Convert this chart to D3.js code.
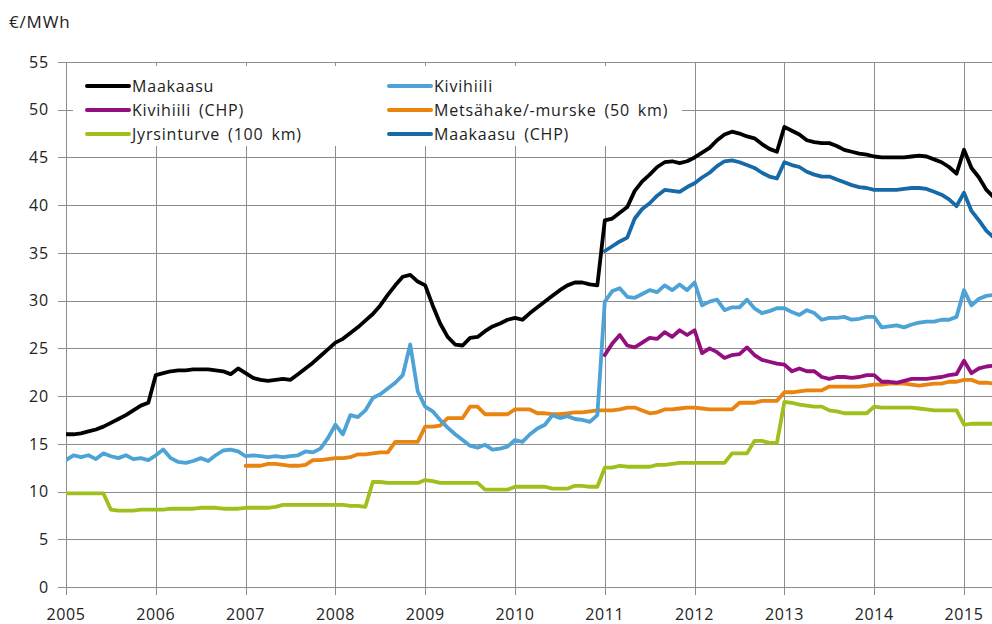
<!DOCTYPE html>
<html><head><meta charset="utf-8">
<script src="https://cdn.jsdelivr.net/npm/d3@7"></script>
<style>
html,body{margin:0;padding:0;background:#fff;}
svg text{font-family:"Open Sans","Noto Sans",sans-serif;fill:#222;}
</style></head>
<body><svg id="c" width="992" height="624"></svg>
<script>
const unitLabel = "€/MWh";
const yTicks = [0,5,10,15,20,25,30,35,40,45,50,55];
const xTicks = [2005,2006,2007,2008,2009,2010,2011,2012,2013,2014,2015];

// Monthly values
const maakaasuStart = [2005,1];
const maakaasu = [
 16.0,16.0,16.1,16.3,16.5,16.8,17.2,17.6,18.0,18.5,19.0,19.3,
 22.2,22.4,22.6,22.7,22.7,22.8,22.8,22.8,22.7,22.6,22.3,22.9,
 22.4,21.9,21.7,21.6,21.7,21.8,21.7,22.3,22.9,23.5,24.2,24.9,
 25.6,26.0,26.6,27.2,27.9,28.6,29.5,30.6,31.6,32.5,32.7,32.0,
 31.6,29.5,27.6,26.2,25.4,25.3,26.1,26.2,26.8,27.3,27.6,28.0,
 28.2,28.0,28.7,29.3,29.9,30.5,31.1,31.6,31.9,31.9,31.7,31.6,
 38.4,38.6,39.2,39.8,41.5,42.5,43.2,44.0,44.5,44.6,44.4,44.6,
 45.0,45.5,46.0,46.8,47.4,47.7,47.5,47.2,47.0,46.4,45.9,45.6,
 48.2,47.8,47.4,46.8,46.6,46.5,46.5,46.2,45.8,45.6,45.4,45.3,
 45.1,45.0,45.0,45.0,45.0,45.1,45.2,45.1,44.8,44.5,44.0,43.3,
 45.8,43.9,42.9,41.6,40.8];
const kivihiiliStart = [2005,1];
const kivihiili = [
 13.3,13.8,13.6,13.8,13.4,14.0,13.7,13.5,13.8,13.4,13.5,13.3,
 13.8,14.4,13.5,13.1,13.0,13.2,13.5,13.2,13.8,14.3,14.4,14.2,
 13.7,13.8,13.7,13.6,13.7,13.6,13.7,13.8,14.2,14.1,14.5,15.6,
 17.0,16.0,18.0,17.8,18.5,19.8,20.2,20.8,21.4,22.2,25.4,20.5,
 18.9,18.4,17.5,16.7,16.0,15.4,14.8,14.6,14.9,14.4,14.5,14.7,
 15.4,15.2,16.0,16.6,17.0,18.0,17.7,17.9,17.6,17.5,17.3,18.0,
 29.9,31.0,31.3,30.4,30.3,30.7,31.1,30.9,31.6,31.1,31.7,31.1,
 31.9,29.5,29.9,30.1,29.0,29.3,29.3,30.1,29.2,28.7,28.9,29.2,
 29.2,28.8,28.5,29.0,28.7,28.0,28.2,28.2,28.3,28.0,28.1,28.3,
 28.3,27.2,27.3,27.4,27.2,27.5,27.7,27.8,27.8,28.0,28.0,28.3,
 31.1,29.5,30.2,30.5,30.6];
const kivihiiliChpStart = [2011,1];
const kivihiiliChp = [
 24.3,25.5,26.4,25.3,25.1,25.6,26.1,26.0,26.7,26.2,26.9,26.4,
 26.9,24.5,25.0,24.6,24.0,24.3,24.4,25.1,24.3,23.8,23.6,23.4,
 23.3,22.6,22.9,22.6,22.6,22.0,21.8,22.0,22.0,21.9,22.0,22.2,
 22.2,21.5,21.5,21.4,21.6,21.8,21.8,21.8,21.9,22.0,22.2,22.3,
 23.7,22.4,22.9,23.1,23.2];
const metsahakeStart = [2007,1];
const metsahake = [
 12.7,12.7,12.7,12.9,12.9,12.8,12.7,12.7,12.8,13.3,13.3,13.4,
 13.5,13.5,13.6,13.9,13.9,14.0,14.1,14.1,15.2,15.2,15.2,15.2,
 16.8,16.8,16.9,17.7,17.7,17.7,18.9,18.9,18.1,18.1,18.1,18.1,
 18.6,18.6,18.6,18.2,18.2,18.1,18.1,18.2,18.3,18.3,18.4,18.5,
 18.5,18.5,18.6,18.8,18.8,18.5,18.2,18.3,18.6,18.6,18.7,18.8,
 18.8,18.7,18.6,18.6,18.6,18.6,19.3,19.3,19.3,19.5,19.5,19.5,
 20.4,20.4,20.5,20.6,20.6,20.6,21.0,21.0,21.0,21.0,21.0,21.1,
 21.2,21.2,21.3,21.3,21.3,21.2,21.1,21.2,21.3,21.3,21.5,21.5,
 21.7,21.7,21.4,21.4,21.3];
const jyrsinturveStart = [2005,1];
const jyrsinturve = [
 9.8,9.8,9.8,9.8,9.8,9.8,8.1,8.0,8.0,8.0,8.1,8.1,
 8.1,8.1,8.2,8.2,8.2,8.2,8.3,8.3,8.3,8.2,8.2,8.2,
 8.3,8.3,8.3,8.3,8.4,8.6,8.6,8.6,8.6,8.6,8.6,8.6,
 8.6,8.6,8.5,8.5,8.4,11.0,11.0,10.9,10.9,10.9,10.9,10.9,
 11.2,11.1,10.9,10.9,10.9,10.9,10.9,10.9,10.2,10.2,10.2,10.2,
 10.5,10.5,10.5,10.5,10.5,10.3,10.3,10.3,10.6,10.6,10.5,10.5,
 12.5,12.5,12.7,12.6,12.6,12.6,12.6,12.8,12.8,12.9,13.0,13.0,
 13.0,13.0,13.0,13.0,13.0,14.0,14.0,14.0,15.3,15.3,15.1,15.1,
 19.4,19.3,19.1,19.0,18.9,18.9,18.5,18.4,18.2,18.2,18.2,18.2,
 18.9,18.8,18.8,18.8,18.8,18.8,18.7,18.6,18.5,18.5,18.5,18.5,
 17.0,17.1,17.1,17.1,17.1];
const maakaasuChpStart = [2011,1];
const maakaasuChp = [
 35.2,35.7,36.2,36.6,38.6,39.6,40.2,41.0,41.6,41.5,41.4,41.9,
 42.3,42.9,43.4,44.1,44.6,44.7,44.5,44.2,43.9,43.4,43.0,42.8,
 44.5,44.2,44.0,43.5,43.2,43.0,43.0,42.7,42.4,42.1,41.9,41.8,
 41.6,41.6,41.6,41.6,41.7,41.8,41.8,41.7,41.4,41.1,40.6,39.9,
 41.3,39.4,38.4,37.3,36.6];

const seriesNames = ["Maakaasu","Kivihiili","Kivihiili (CHP)","Metsähake/-murske (50 km)","Jyrsinturve (100 km)","Maakaasu (CHP)"];
const seriesColors = ["#000000","#4da2d6","#930f80","#e8840f","#9fbf1c","#176aa8"];

const series = [
 {name:seriesNames[0], color:seriesColors[0], start:maakaasuStart, values:maakaasu},
 {name:seriesNames[1], color:seriesColors[1], start:kivihiiliStart, values:kivihiili},
 {name:seriesNames[2], color:seriesColors[2], start:kivihiiliChpStart, values:kivihiiliChp},
 {name:seriesNames[3], color:seriesColors[3], start:metsahakeStart, values:metsahake},
 {name:seriesNames[4], color:seriesColors[4], start:jyrsinturveStart, values:jyrsinturve},
 {name:seriesNames[5], color:seriesColors[5], start:maakaasuChpStart, values:maakaasuChp}
];
const drawOrder = [4,3,1,2,5,0];

(function(){
const svg = d3.select("#c");
const H = 624;
const pLeft = 66, pTop = 62, pBottom = 587, pRight = 992;
const x = d3.scaleLinear().domain([2005, 2015]).range([pLeft, 964]);
const y = d3.scaleLinear().domain([0, 55]).range([pBottom, pTop]);

const grid = svg.append("g");
const gridColor = "#8c8c8c";
grid.selectAll("line.h").data(yTicks).enter().append("line")
  .attr("x1", pLeft-8).attr("x2", pRight)
  .attr("y1", d=>Math.round(y(d))+0.5).attr("y2", d=>Math.round(y(d))+0.5)
  .attr("stroke", gridColor).attr("stroke-width",1);
grid.selectAll("line.v").data(xTicks).enter().append("line")
  .attr("x1", d=>Math.round(x(d))+0.5).attr("x2", d=>Math.round(x(d))+0.5)
  .attr("y1", pTop).attr("y2", pBottom+8)
  .attr("stroke", gridColor).attr("stroke-width",1);

svg.append("g").selectAll("text").data(yTicks).enter().append("text")
  .attr("x", 49).attr("y", d=>y(d)).attr("dy","0.36em")
  .attr("text-anchor","end").attr("font-size",16).attr("letter-spacing","0.8px").text(d=>d);
svg.append("g").selectAll("text").data(xTicks).enter().append("text")
  .attr("x", d=>x(d)).attr("y", 620)
  .attr("text-anchor","middle").attr("font-size",16).attr("letter-spacing","0.6px").text(d=>d);
svg.append("text").attr("x",9).attr("y",28).attr("font-size",17).attr("letter-spacing","0.8px").text(unitLabel);

const leg = svg.append("g");
leg.append("rect").attr("x",73).attr("y",66).attr("width",609).attr("height",80).attr("fill","#fff");

svg.append("clipPath").attr("id","clip").append("rect")
  .attr("x",pLeft).attr("y",0).attr("width",pRight-pLeft).attr("height",H);

const line = d3.line().x(d=>x(d.t)).y(d=>y(d.v)).curve(d3.curveLinear);
const plot = svg.append("g").attr("clip-path","url(#clip)");
drawOrder.forEach(i=>{
  const s = series[i];
  const pts = s.values.map((v,k)=>({t: s.start[0] + (s.start[1]-1+k)/12, v}));
  plot.append("path").datum(pts).attr("d", line)
    .attr("fill","none").attr("stroke", s.color).attr("stroke-width",3.8)
    .attr("stroke-linejoin","round").attr("stroke-linecap","round");
});

const legPos = [[87,86],[389,86],[87,110],[389,110],[87,134],[389,134]];
series.forEach((s,k)=>{
  const [lx,ly] = legPos[k];
  leg.append("line").attr("x1",lx).attr("x2",lx+42).attr("y1",ly).attr("y2",ly)
    .attr("stroke",s.color).attr("stroke-width",4).attr("stroke-linecap","round");
  leg.append("text").attr("x",lx+45).attr("y",ly).attr("dy","0.36em")
    .attr("font-size",16).attr("letter-spacing","0.8px").attr("word-spacing","3px").text(s.name);
});
})();
</script></body></html>
